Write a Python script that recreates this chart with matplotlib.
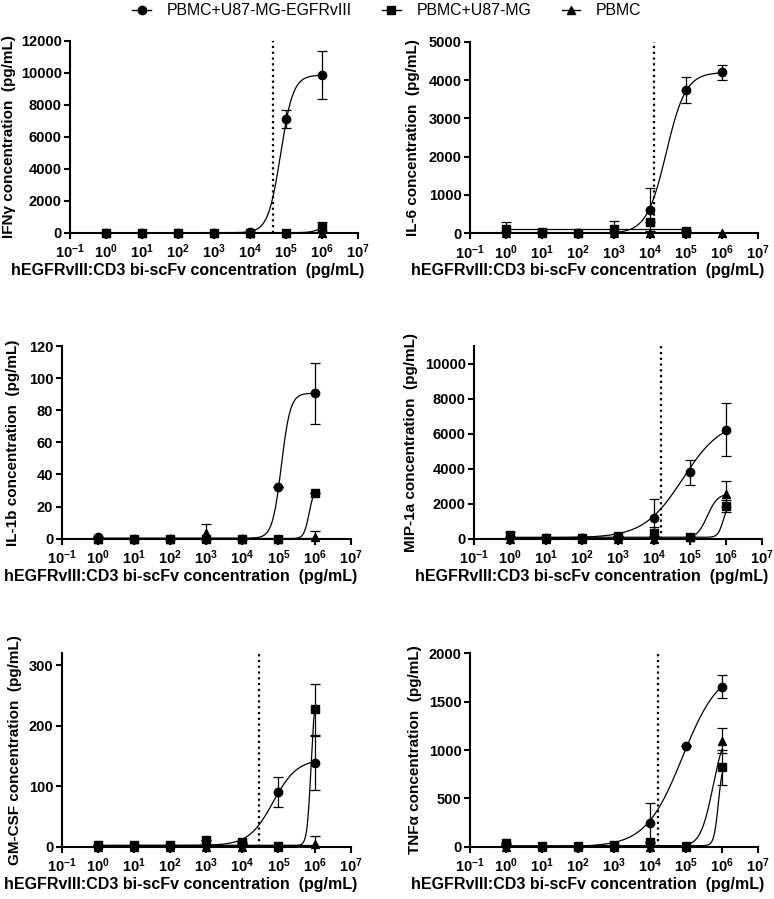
import numpy as np
import matplotlib
matplotlib.use("Agg")
import matplotlib.pyplot as plt
from matplotlib.lines import Line2D

plt.rcParams['font.family'] = ['Liberation Sans', 'DejaVu Sans']
plt.rcParams['font.weight'] = 'bold'
plt.rcParams['mathtext.fontset'] = 'custom'
plt.rcParams['mathtext.rm'] = 'Liberation Sans:bold'
plt.rcParams['mathtext.it'] = 'Liberation Sans:bold'
plt.rcParams['mathtext.bf'] = 'Liberation Sans:bold'

# bi-scFv concentration (pg/mL)
conc = [1e0, 1e1, 1e2, 1e3, 1e4, 1e5, 1e6]
groups = ["PBMC+U87-MG-EGFRvIII", "PBMC+U87-MG", "PBMC"]
markers = ["o", "s", "^"]
x_label = "hEGFRvIII:CD3 bi-scFv concentration  (pg/mL)"

# IFNγ
ifng_egfr = [0, 0, 0, 0, 20, 7100, 9850]
ifng_egfr_sd = [0, 0, 0, 0, 0, 580, 1500]
ifng_u87 = [0, 0, 0, 0, 0, 0, 380]
ifng_u87_sd = [0, 0, 0, 0, 0, 0, 280]
ifng_pbmc = [0, 0, 0, 0, 0, 0, 0]
ifng_pbmc_sd = [0, 0, 0, 0, 0, 0, 0]
# 4PL fits: bottom, top, logEC50, hill
ifng_fits = [[0, 9850, 4.85, 2.5], [0, 1100, 6.1, 3.0], [0, 0, 5, 1]]
ifng_dotted = 10 ** 4.63

# IL-6
il6_egfr = [30, 10, 5, 30, 610, 3740, 4200]
il6_egfr_sd = [0, 0, 0, 0, 560, 330, 190]
il6_u87 = [100, 30, 10, 100, 290, 70, np.nan]
il6_u87_sd = [200, 20, 10, 230, 0, 20, np.nan]
il6_pbmc = [0, 0, 0, 0, 0, 0, 0]
il6_pbmc_sd = [0, 0, 0, 0, 0, 0, 0]
il6_fits = [[0, 4200, 4.45, 1.6], [100, 100, 5, 1], [0, 0, 5, 1]]
il6_dotted = 10 ** 4.11

# IL-1b
il1b_egfr = [1, 0, 0, 0, 0, 32, 90.6]
il1b_egfr_sd = [0, 0, 0, 0, 0, 0, 19]
il1b_u87 = [0, 0, 0, 0, 0, 0, 28.6]
il1b_u87_sd = [0, 0, 0, 0, 0, 0, 0]
il1b_pbmc = [0, 0, 0, 3.3, 0, 0, 1]
il1b_pbmc_sd = [0, 0, 0, 5.8, 0, 0, 3.5]
il1b_fits = [[0.3, 90.6, 5.08, 3.5], [0, 32, 5.85, 6], [0.5, 0.5, 5, 1]]
il1b_dotted = None

# MIP-1a
mip_egfr = [100, 30, 30, 50, 1205, 3786, 6233]
mip_egfr_sd = [0, 0, 0, 0, 1050, 705, 1495]
mip_u87 = [210, 30, 30, 180, 344, 80, 1874]
mip_u87_sd = [200, 0, 0, 0, 300, 0, 330]
mip_pbmc = [0, 0, 0, 0, 0, 100, 2543]
mip_pbmc_sd = [0, 0, 0, 0, 0, 0, 760]
mip_fits = [[50, 6800, 4.8, 0.8], [80, 2000, 5.92, 6], [0, 2580, 5.48, 3]]
mip_dotted = 10 ** 4.19

# GM-CSF
gm_egfr = [1, 1, 1, 2, 5, 90.2, 138.4]
gm_egfr_sd = [0, 0, 0, 0, 0, 25, 45]
gm_u87 = [2, 2, 2, 11, 8.3, 1, 227]
gm_u87_sd = [0, 0, 0, 0, 0, 0, 42]
gm_pbmc = [0, 0, 0, 0, 0, 0, 5]
gm_pbmc_sd = [0, 0, 0, 0, 0, 0, 12]
gm_fits = [[2, 145, 4.85, 1.3], [2, 260, 5.9, 8], [2, 2, 5, 1]]
gm_dotted = 10 ** 4.45

# TNFα
tnf_egfr = [20, 0, 0, 10, 248, 1041, 1655]
tnf_egfr_sd = [0, 0, 0, 0, 207, 0, 120]
tnf_u87 = [34, 10, 5, 20, 52, 5, 820]
tnf_u87_sd = [0, 0, 0, 0, 0, 0, 180]
tnf_pbmc = [0, 0, 0, 0, 0, 0, 1097]
tnf_pbmc_sd = [0, 0, 0, 0, 0, 0, 128]
tnf_fits = [[0, 1850, 4.9, 0.85], [10, 900, 5.9, 7], [0, 1250, 5.75, 2.5]]
tnf_dotted = 10 ** 4.23

panels = [
    ("IFNγ concentration  (pg/mL)", [ifng_egfr, ifng_u87, ifng_pbmc],
     [ifng_egfr_sd, ifng_u87_sd, ifng_pbmc_sd], ifng_fits, ifng_dotted,
     12000, np.arange(0, 12001, 2000)),
    ("IL-6 concentration  (pg/mL)", [il6_egfr, il6_u87, il6_pbmc],
     [il6_egfr_sd, il6_u87_sd, il6_pbmc_sd], il6_fits, il6_dotted,
     5000, np.arange(0, 5001, 1000)),
    ("IL-1b concentration  (pg/mL)", [il1b_egfr, il1b_u87, il1b_pbmc],
     [il1b_egfr_sd, il1b_u87_sd, il1b_pbmc_sd], il1b_fits, il1b_dotted,
     120, np.arange(0, 121, 20)),
    ("MIP-1a concentration  (pg/mL)", [mip_egfr, mip_u87, mip_pbmc],
     [mip_egfr_sd, mip_u87_sd, mip_pbmc_sd], mip_fits, mip_dotted,
     11000, np.arange(0, 10001, 2000)),
    ("GM-CSF concentration  (pg/mL)", [gm_egfr, gm_u87, gm_pbmc],
     [gm_egfr_sd, gm_u87_sd, gm_pbmc_sd], gm_fits, gm_dotted,
     320, np.arange(0, 301, 100)),
    ("TNFα concentration  (pg/mL)", [tnf_egfr, tnf_u87, tnf_pbmc],
     [tnf_egfr_sd, tnf_u87_sd, tnf_pbmc_sd], tnf_fits, tnf_dotted,
     2000, np.arange(0, 2001, 500)),
]

# axes boxes in pixels: left, right, top, bottom, y-label right edge offset
W, H = 774, 899
boxes = [
    (70, 358, 40.7, 232.7, 54),
    (470, 758, 41.7, 233.3, 50),
    (61.7, 350.7, 346, 538.7, 42),
    (474, 762, 346, 538.7, 56),
    (61.7, 350.7, 653, 846.7, 40),
    (470, 758, 653.3, 846.7, 48),
]


def four_pl(logx, bottom, top, logec50, hill):
    return bottom + (top - bottom) / (1 + 10 ** ((logec50 - logx) * hill))


fig = plt.figure(figsize=(W / 100, H / 100), dpi=100)

for (ylab, vals, sds, fits, dotted, ytop, yticks), box in zip(panels, boxes):
    l, r, t, b, off = box
    ax = fig.add_axes([l / W, 1 - b / H, (r - l) / W, (b - t) / H])

    for v, sd, fit, m in zip(vals, sds, fits, markers):
        v = np.array(v, dtype=float)
        sd = np.array(sd, dtype=float)
        x = np.array(conc)
        ok = ~np.isnan(v)
        lx = np.linspace(np.log10(x[ok].min()), np.log10(x[ok].max()), 400)
        ax.plot(10 ** lx, four_pl(lx, *fit), color="black", lw=0.9, zorder=2)
        ax.errorbar(x[ok], v[ok], yerr=sd[ok], fmt="none", ecolor="black",
                    elinewidth=0.9, capsize=3.5, capthick=0.9, zorder=3)
        ax.plot(x[ok], v[ok], ls="none", marker=m, ms=6, color="black",
                zorder=4, clip_on=False)

    if dotted is not None:
        ax.axvline(dotted, color="black", lw=1.6, ls=(0, (1, 1.6)), zorder=1)

    ax.set_xscale("log")
    ax.set_xlim(1e-1, 1e7)
    ax.set_ylim(0, ytop)
    ax.set_xticks(10.0 ** np.arange(-1, 8))
    ax.set_xticklabels([r"$\mathbf{10^{%d}}$" % e for e in range(-1, 8)])
    ax.xaxis.set_minor_locator(plt.NullLocator())
    ax.set_yticks(yticks)
    ax.set_yticklabels([str(int(y)) for y in yticks])
    for s in ["top", "right"]:
        ax.spines[s].set_visible(False)
    for s in ["left", "bottom"]:
        ax.spines[s].set_linewidth(1.5)
    ax.tick_params(width=1.5, length=4, labelsize=10.5, pad=2)
    ax.tick_params(axis="x", pad=3)

    ax.set_ylabel(ylab, fontsize=11, fontweight="bold")
    ax.yaxis.set_label_coords(-off / (r - l), 0.5)
    ax.set_xlabel(x_label, fontsize=11.5, fontweight="bold")
    ax.xaxis.set_label_coords(0.41, -30 / (b - t))

handles = [Line2D([0], [0], color="black", lw=1, marker=m, ms=6)
           for m in markers]
fig.legend(handles, groups, loc="upper center", bbox_to_anchor=(0.5, 1.012),
           ncol=3, frameon=False, handlelength=1.15, handletextpad=1.0,
           columnspacing=1.95, prop={"weight": "normal", "size": 11.4})

fig.savefig("out.png", dpi=100)
